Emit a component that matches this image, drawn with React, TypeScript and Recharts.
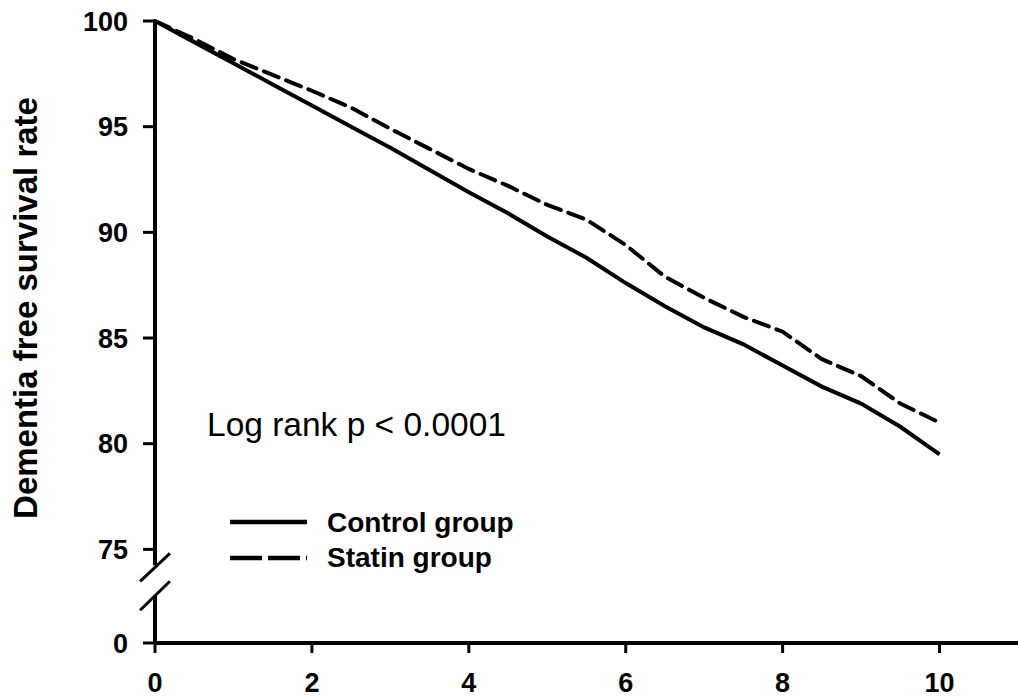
import React from "react";
import {
  LineChart,
  Line,
  XAxis,
  YAxis,
  ReferenceLine,
} from "recharts";

// follow-up years
const years = [0, 0.5, 1, 1.5, 2, 2.5, 3, 3.5, 4, 4.5, 5, 5.5, 6, 6.5, 7, 7.5, 8, 8.5, 9, 9.5, 10];

const controlGroup = [
  100, 99.0, 98.0, 97.0, 96.0, 95.0, 94.0, 92.95, 91.9, 90.9, 89.8, 88.8, 87.6, 86.5, 85.5, 84.7, 83.7,
  82.7, 81.9, 80.8, 79.5,
];

const statinGroup = [
  100, 99.15, 98.2, 97.45, 96.7, 95.9, 94.9, 93.95, 93.0, 92.2, 91.3, 90.6, 89.4, 87.9, 86.9, 86.0, 85.3,
  84.0, 83.2, 81.9, 81.0,
];

// broken axis: "0" sits below the break
const Y_ZERO = 70.57;
const yTicks = [Y_ZERO, 75, 80, 85, 90, 95, 100];
const yTickLabels = ["0", "75", "80", "85", "90", "95", "100"];
const xTicks = [0, 2, 4, 6, 8, 10];

// where the y axis line is interrupted
const breakTop = 74.25;
const breakBottom = 72.83;

const legendItems = [
  { name: "Control group", dash: undefined as string | undefined },
  { name: "Statin group", dash: "32 6" },
];

const data = years.map((t, i) => ({
  t,
  control: controlGroup[i],
  statin: statinGroup[i],
}));

const FONT = "'Liberation Sans', Arial, Helvetica, sans-serif";

const tickStyle = {
  fontSize: 27,
  fontWeight: 700,
  fill: "#000",
  fontFamily: FONT,
};

function YLabel(props: any) {
  const vb = props.viewBox || {};
  const x = (vb.x ?? 0) + 37;
  const y = 308;
  return (
    <text
      x={x}
      y={y}
      transform={`rotate(-90, ${x}, ${y})`}
      textAnchor="middle"
      fontSize={33}
      fontWeight={700}
      fontFamily={FONT}
      fill="#000"
    >
      Dementia free survival rate
    </text>
  );
}

export default function App() {
  return (
    <div style={{ position: "absolute", left: 0, top: 0, width: 1018, height: 699, background: "#fff" }}>
      <LineChart
        width={1018}
        height={699}
        data={data}
        margin={{ top: 21, right: 0, left: 0, bottom: 0 }}
      >
        <XAxis
          dataKey="t"
          type="number"
          domain={[0, 11]}
          ticks={xTicks}
          interval={0}
          height={56}
          tick={tickStyle}
          tickSize={10}
          tickMargin={20}
          axisLine={{ stroke: "#000", strokeWidth: 4 }}
          tickLine={{ stroke: "#000", strokeWidth: 3 }}
        />
        <YAxis
          type="number"
          domain={[Y_ZERO, 100]}
          ticks={yTicks}
          interval={0}
          width={155}
          tick={tickStyle}
          tickFormatter={(v: number) => yTickLabels[yTicks.indexOf(v)] ?? String(v)}
          tickSize={12}
          tickMargin={15}
          axisLine={false}
          tickLine={{ stroke: "#000", strokeWidth: 3 }}
          label={<YLabel />}
        />
        {/* y axis line, split at the break */}
        <ReferenceLine
          segment={[{ x: 0, y: 100 }, { x: 0, y: breakTop }]}
          stroke="#000"
          strokeWidth={4}
          ifOverflow="visible"
        />
        <ReferenceLine
          segment={[{ x: 0, y: breakBottom }, { x: 0, y: Y_ZERO }]}
          stroke="#000"
          strokeWidth={4}
          ifOverflow="visible"
        />
        {/* break marks */}
        <ReferenceLine
          segment={[{ x: -0.19, y: 73.49 }, { x: 0.19, y: 74.81 }]}
          stroke="#000"
          strokeWidth={3}
          ifOverflow="visible"
        />
        <ReferenceLine
          segment={[{ x: -0.19, y: 72.12 }, { x: 0.19, y: 73.49 }]}
          stroke="#000"
          strokeWidth={3}
          ifOverflow="visible"
        />
        <Line
          type="linear"
          dataKey="control"
          stroke="#000"
          strokeWidth={4}
          dot={false}
          isAnimationActive={false}
          name="Control group"
        />
        <Line
          type="linear"
          dataKey="statin"
          stroke="#000"
          strokeWidth={4}
          strokeDasharray="16 8"
          strokeLinecap="round"
          dot={false}
          isAnimationActive={false}
          name="Statin group"
        />
      </LineChart>
      <svg
        width={1018}
        height={699}
        style={{ position: "absolute", left: 0, top: 0, pointerEvents: "none" }}
      >
        <text x={207} y={436} fontSize={33.5} fontFamily={FONT} fill="#000">
          Log rank p &lt; 0.0001
        </text>
        {legendItems.map((item, i) => (
          <g key={item.name}>
            <line
              x1={230}
              x2={307}
              y1={522 + i * 36}
              y2={522 + i * 36}
              stroke="#000"
              strokeWidth={4.5}
              strokeDasharray={item.dash}
            />
            <text
              x={327}
              y={532 + i * 35}
              fontSize={28}
              fontWeight={700}
              fontFamily={FONT}
              fill="#000"
            >
              {item.name}
            </text>
          </g>
        ))}
      </svg>
    </div>
  );
}
